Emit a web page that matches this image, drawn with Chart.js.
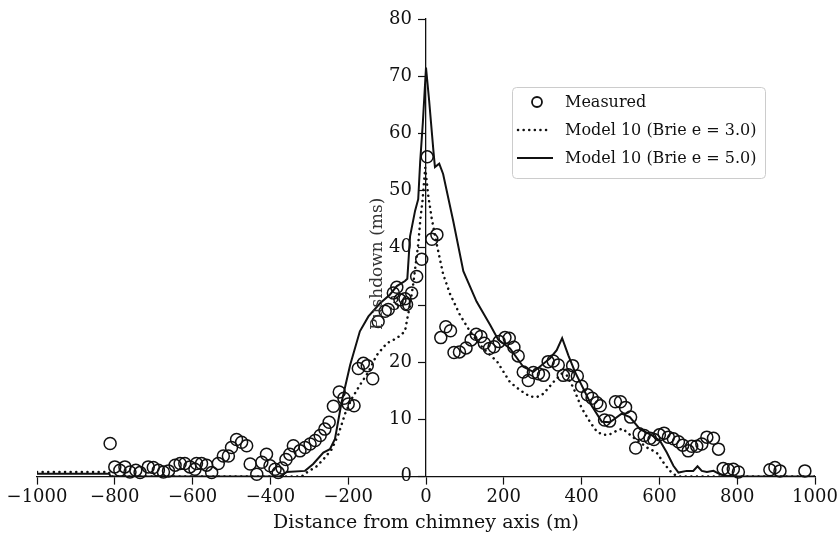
<!DOCTYPE html>
<html>
<head>
<meta charset="utf-8">
<script src="https://cdn.jsdelivr.net/npm/chart.js@4/dist/chart.umd.min.js"></script>
<style>
html,body{margin:0;padding:0;background:#fff;}
#wrap{width:838px;height:534px;position:relative;}
</style>
</head>
<body>
<div id="wrap"><canvas id="c" width="838" height="534"></canvas></div>
<script>
// ---- data ----
const seriesNames = ['Measured', 'Model 10 (Brie e = 3.0)', 'Model 10 (Brie e = 5.0)'];
const xAxisTitle = 'Distance from chimney axis (m)';
const yAxisTitle = 'Pushdown (ms)';
const xTickValues = [-1000, -800, -600, -400, -200, 0, 200, 400, 600, 800, 1000];
const yTickValues = [0, 10, 20, 30, 40, 50, 60, 70, 80];

const measuredX = [-812,-800,-787,-774,-761,-746,-735,-714,-701,-688,-675,-662,-645,-632,-620,-607,-594,-590,-577,-564,-551,-534,-521,-508,-500,-487,-474,-461,-452,-435,-422,-410,-401,-388,-380,-370,-360,-350,-341,-324,-311,-298,-285,-272,-260,-249,-238,-223,-211,-200,-185,-174,-161,-151,-137,-123,-105,-97,-84,-75,-67,-54,-50,-37,-24,-11,3,15,28,38,51,63,72,86,103,116,129,141,150,163,175,188,203,214,226,237,250,263,276,289,302,314,327,340,353,366,377,389,400,415,427,439,448,459,472,487,500,513,526,539,548,561,576,586,600,612,623,636,649,660,674,683,696,709,722,739,752,764,777,790,803,884,897,910,974];
const measuredY = [5.8,1.7,1.1,1.7,0.8,1.1,0.7,1.7,1.6,1.1,0.8,1.0,2.0,2.3,2.3,1.7,1.3,2.3,2.3,2.0,0.7,2.3,3.6,3.6,5.1,6.5,6.0,5.4,2.2,0.4,2.5,3.9,1.9,1.3,0.7,1.5,3.0,3.9,5.4,4.5,5.1,5.7,6.3,7.2,8.3,9.5,12.3,14.8,13.7,12.7,12.4,18.9,19.8,19.4,17.1,27.1,28.9,29.2,32.1,33.1,30.9,31.1,30.1,32.1,35.0,38.0,55.9,41.5,42.3,24.3,26.2,25.5,21.7,21.8,22.5,23.9,24.9,24.5,23.3,22.4,22.7,23.6,24.3,24.2,22.6,21.1,18.3,16.8,18.2,18.0,17.7,20.1,20.2,19.5,17.7,17.8,19.4,17.6,15.8,14.3,13.7,12.9,12.4,9.9,9.7,13.1,13.1,12.1,10.4,5.0,7.5,7.2,6.7,6.5,7.3,7.6,6.9,6.6,6.1,5.5,4.5,5.3,5.3,5.7,6.9,6.7,4.8,1.4,1.2,1.3,0.8,1.2,1.6,1.0,1.0];

const model3X = [-1000,-815,-810,-320,-307,-281,-264,-242,-225,-208,-191,-170,-148,-127,-101,-75,-54,-47,-41,-33,-20,-14,-9,-2,6,15,28,44,62,87,113,147,183,216,242,267,285,302,327,349,362,379,400,422,440,456,470,490,505,530,550,570,593,610,627,640,655,1000];
const model3Y = [0.8,0.8,0,0,0.7,1.8,3.0,4.8,7.4,11.0,13.6,16.0,18.3,21.2,23.3,24.2,25.4,28.0,30.0,33.6,40.6,45.3,48.2,54.0,49.0,45.0,40.5,35.4,31.9,28.3,25.4,22.4,20.1,16.5,15.1,14.0,13.9,14.5,16.5,18.0,17.7,15.5,12.0,9.5,7.8,7.3,7.3,8.0,8.4,7.0,6.0,5.0,4.2,2.5,1.0,0.3,0,0];

const model5X = [-1000,-815,-810,-375,-358,-311,-290,-264,-247,-234,-217,-195,-170,-148,-118,-93,-75,-54,-48,-41,-28,-20,-15,-8,0,8,19,23,34,44,70,96,130,165,186,216,250,276,319,336,350,366,383,400,426,452,473,503,524,550,576,601,619,636,649,670,687,698,709,722,739,756,773,1000];
const model5Y = [0.5,0.5,0,0,0.8,1.0,2.2,4.2,4.8,6.6,13.0,19.5,25.4,28.0,30.3,31.8,33.3,34.2,34.6,42.0,46.5,48.5,55.0,62.0,71.5,65.8,57.0,54.1,54.7,52.9,44.7,35.9,30.6,26.5,23.9,22.4,19.2,18.3,20.7,22.1,24.2,21.2,18.3,16.0,12.4,9.6,9.5,11.0,10.4,8.3,7.4,6.3,4.2,1.9,0.7,1.0,1.0,1.8,1.0,0.8,1.0,0.4,0,0];

// ---- build ----
const toPts = (xs, ys) => xs.map((x, i) => ({x: x, y: ys[i]}));
const FONT = "'DejaVu Serif', 'Liberation Serif', serif";
const INK = '#111111';

// y-axis labels + title for the centred y axis (placed via the library's scales)
const centredYLabels = {
  id: 'centredYLabels',
  afterDraw(chart) {
    const ctx = chart.ctx;
    const xs = chart.scales.x, ys = chart.scales.y;
    const axisX = xs.getPixelForValue(0);
    ctx.save();
    ctx.fillStyle = INK;
    ctx.font = "18px " + FONT;
    ctx.textAlign = 'right';
    ctx.textBaseline = 'middle';
    yTickValues.forEach(v => ctx.fillText(String(v), axisX - 14, ys.getPixelForValue(v)));
    ctx.translate(axisX - 48, (ys.top + ys.bottom) / 2 + 16);
    ctx.rotate(-Math.PI / 2);
    ctx.textAlign = 'center';
    ctx.fillStyle = '#333333';
    ctx.font = "17px " + FONT;
    ctx.fillText(yAxisTitle, 0, 0);
    ctx.restore();
  }
};

const boxLegend = {
  id: 'boxLegend',
  afterDraw(chart) {
    const ctx = chart.ctx;
    const bx = 512.5, by = 87.5, bw = 253, bh = 91, r = 4;
    ctx.save();
    ctx.beginPath();
    ctx.moveTo(bx + r, by);
    ctx.lineTo(bx + bw - r, by); ctx.arcTo(bx + bw, by, bx + bw, by + r, r);
    ctx.lineTo(bx + bw, by + bh - r); ctx.arcTo(bx + bw, by + bh, bx + bw - r, by + bh, r);
    ctx.lineTo(bx + r, by + bh); ctx.arcTo(bx, by + bh, bx, by + bh - r, r);
    ctx.lineTo(bx, by + r); ctx.arcTo(bx, by, bx + r, by, r);
    ctx.closePath();
    ctx.fillStyle = 'rgba(255,255,255,0.85)';
    ctx.fill();
    ctx.strokeStyle = '#cccccc';
    ctx.lineWidth = 1;
    ctx.stroke();

    const rows = [102, 130, 158];
    ctx.strokeStyle = INK;
    ctx.beginPath();
    ctx.lineWidth = 1.8;
    ctx.arc(537, rows[0], 5, 0, Math.PI * 2);
    ctx.stroke();
    ctx.beginPath();
    ctx.lineWidth = 2.5;
    ctx.lineCap = 'round';
    ctx.setLineDash([0.1, 5.5]);
    ctx.moveTo(518, rows[1]); ctx.lineTo(551, rows[1]);
    ctx.stroke();
    ctx.beginPath();
    ctx.setLineDash([]);
    ctx.lineCap = 'butt';
    ctx.lineWidth = 2;
    ctx.moveTo(517, rows[2]); ctx.lineTo(553, rows[2]);
    ctx.stroke();
    ctx.fillStyle = INK;
    ctx.font = "16px " + FONT;
    ctx.textBaseline = 'middle';
    ctx.textAlign = 'left';
    seriesNames.forEach((t, i) => ctx.fillText(t, 565, rows[i] + 1));
    ctx.restore();
  }
};

new Chart(document.getElementById('c'), {
  type: 'scatter',
  data: {
    datasets: [
      {
        label: seriesNames[0],
        data: toPts(measuredX, measuredY),
        showLine: false,
        pointStyle: 'circle',
        pointRadius: 6,
        pointBorderWidth: 1.5,
        pointBorderColor: INK,
        pointBackgroundColor: 'rgba(0,0,0,0)',
        clip: false
      },
      {
        label: seriesNames[1],
        data: toPts(model3X, model3Y),
        showLine: true,
        pointRadius: 0,
        borderColor: INK,
        borderWidth: 2.5,
        borderDash: [0.1, 5.5],
        borderCapStyle: 'round',
        tension: 0
      },
      {
        label: seriesNames[2],
        data: toPts(model5X, model5Y),
        showLine: true,
        pointRadius: 0,
        borderColor: INK,
        borderWidth: 2,
        tension: 0
      }
    ]
  },
  options: {
    responsive: false,
    devicePixelRatio: 1,
    animation: false,
    layout: { padding: { left: 37, right: 23, top: 19, bottom: 0 } },
    plugins: { legend: { display: false }, tooltip: { enabled: false } },
    scales: {
      x: {
        type: 'linear',
        position: 'bottom',
        min: -1000, max: 1000,
        afterBuildTicks: (s) => { s.ticks = xTickValues.map(v => ({value: v})); },
        afterFit: (s) => { s.paddingLeft = 20; s.paddingRight = 20; },
        ticks: {
          color: INK,
          font: { family: FONT, size: 18 },
          padding: 2,
          maxRotation: 0,
          callback: (v) => String(v).replace('-', '\u2212')
        },
        grid: { display: true, drawOnChartArea: false, drawTicks: true, tickLength: 8, tickColor: INK, tickWidth: 1.2 },
        border: { display: true, color: INK, width: 1.3 },
        title: { display: true, text: xAxisTitle, color: INK, font: { family: FONT, size: 19 }, padding: { top: 1, bottom: 0 } }
      },
      y: {
        type: 'linear',
        position: { x: 0 },
        min: 0, max: 80,
        afterBuildTicks: (s) => { s.ticks = yTickValues.map(v => ({value: v})); },
        ticks: { display: false },
        grid: { display: true, drawOnChartArea: false, drawTicks: true, tickLength: 7, tickColor: INK, tickWidth: 1.2 },
        border: { display: true, color: INK, width: 1.3 },
        title: { display: false }
      }
    }
  },
  plugins: [centredYLabels, boxLegend]
});
</script>
</body>
</html>
